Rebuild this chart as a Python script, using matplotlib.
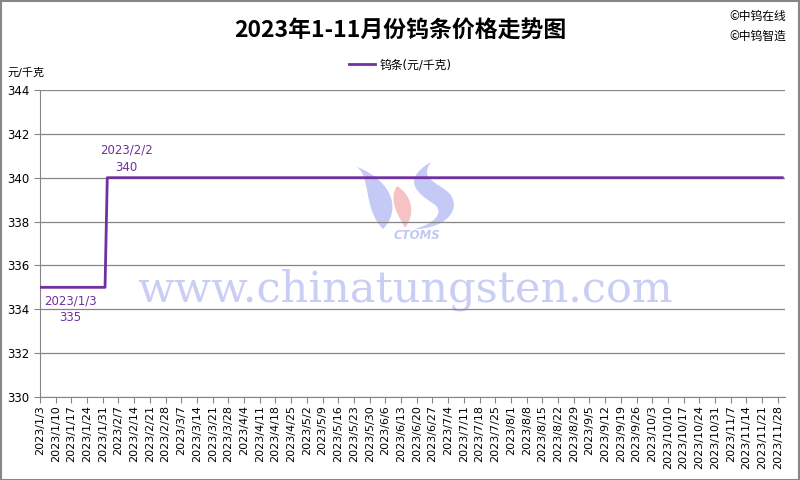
import matplotlib
matplotlib.use("Agg")
import matplotlib.pyplot as plt
import pandas as pd
from matplotlib.patches import Rectangle, PathPatch
from matplotlib.path import Path
from matplotlib.transforms import Affine2D

plt.rcParams['font.family'] = ['DejaVu Sans', 'Noto Sans CJK SC']

title = "2023年1-11月份钨条价格走势图"
series_name = "钨条(元/千克)"
y_unit = "元/千克"
dates = pd.to_datetime(["2023-01-03", "2023-02-01", "2023-02-02", "2023-11-30"])
prices = [335, 335, 340, 340]
tick_dates = pd.date_range("2023-01-03", "2023-11-28", freq="7D")
tick_labels = [f"{d.year}/{d.month}/{d.day}" for d in tick_dates]
yticks = [330, 332, 334, 336, 338, 340, 342, 344]
notes = [("2023-01-03", 335, "below"), ("2023-02-02", 340, "above")]

purple = "#7030A0"
fig = plt.figure(figsize=(8, 4.8), dpi=100)
ax = fig.add_axes([0.05, 0.173, 0.931, 0.6395])

# watermark text
ax.text(0.49, 0.348, "www.chinatungsten.com", transform=ax.transAxes, ha="center", va="center",
        fontsize=31, family="DejaVu Serif", color="#C9CEF4", zorder=0.3)
ax.text(0.506, 0.525, "CTOMS", transform=ax.transAxes, ha="center", va="center",
        fontsize=8.5, fontweight="bold", style="italic", family="DejaVu Sans", color="#C3C8F2", zorder=0.3)

# logo decoration (pixel coordinates of the 800x480 canvas)
pix = Affine2D().scale(1 / 800, -1 / 480).translate(0, 1) + fig.transFigure
C = Path.CURVE4
logo = [
    ([(355, 166), (372, 174), (362, 208), (383, 229), (400, 212), (396, 182), (355, 166), (355, 166)],
     [Path.MOVETO, C, C, C, C, C, C, Path.CLOSEPOLY], "#C5C9F5"),
    ([(397, 186), (388, 200), (398, 215), (405, 228), (416, 214), (412, 195), (397, 186), (397, 186)],
     [Path.MOVETO, C, C, C, C, C, C, Path.CLOSEPOLY], "#F6C2C4"),
    ([(431, 162), (400, 180), (418, 194), (434, 204), (446, 213), (432, 225), (414, 229),
      (445, 229), (462, 210), (450, 194), (440, 183), (418, 180), (431, 162), (431, 162)],
     [Path.MOVETO, C, C, C, C, C, C, C, C, C, C, C, C, Path.CLOSEPOLY], "#C5C9F5"),
]
for verts, codes, col in logo:
    ax.add_patch(PathPatch(Path(verts, codes), transform=pix, facecolor=col, edgecolor="none",
                           zorder=0.2, clip_on=False))

ax.plot(dates, prices, color=purple, lw=2.0, label=series_name, zorder=3)

for d, v, pos in notes:
    dt = pd.Timestamp(d)
    lab = f"{dt.year}/{dt.month}/{dt.day}\n{v}"
    if pos == "below":
        ax.annotate(lab, (dt, v), xytext=(22, -5), textcoords="offset points", ha="center", va="top",
                    fontsize=8.5, color=purple, linespacing=1.4)
    else:
        ax.annotate(lab, (dt, v), xytext=(14, 3), textcoords="offset points", ha="center", va="bottom",
                    fontsize=8.5, color=purple, linespacing=1.4)

ax.set_ylim(330, 344)
ax.set_yticks(yticks)
ax.set_xlim(pd.Timestamp("2023-01-03"), pd.Timestamp("2023-12-01 03:00"))
ax.set_xticks(tick_dates)
ax.set_xticklabels(tick_labels, rotation=90, fontsize=8)
ax.tick_params(axis="y", labelsize=8.5, length=4, color="#868686")
ax.tick_params(axis="x", length=4, color="#868686", pad=2)
ax.grid(axis="y", color="#868686", lw=0.9)
ax.set_axisbelow(True)
for s in ["top", "right"]:
    ax.spines[s].set_visible(False)
for s in ["left", "bottom"]:
    ax.spines[s].set_color("#868686")

fig.text(0.5, 0.935, title, ha="center", va="center", fontsize=16.5, fontweight="bold",
         family=["Noto Sans CJK SC", "DejaVu Sans"])
fig.text(0.01, 0.848, y_unit, ha="left", va="center", fontsize=8)
fig.text(0.983, 0.965, "©中钨在线", ha="right", va="center", fontsize=8.5,
         family=["Noto Sans CJK SC", "DejaVu Sans"])
fig.text(0.983, 0.925, "©中钨智造", ha="right", va="center", fontsize=8.5,
         family=["Noto Sans CJK SC", "DejaVu Sans"])
fig.legend(loc="center", bbox_to_anchor=(0.5, 0.865), frameon=False, fontsize=8.5,
           handlelength=2.2, handletextpad=0.4)

fig.patches.append(Rectangle((0.001, 0.001), 0.998, 0.997, transform=fig.transFigure,
                             fill=False, edgecolor="#868686", lw=1.5))
fig.savefig("out.png", dpi=100, facecolor="white")
